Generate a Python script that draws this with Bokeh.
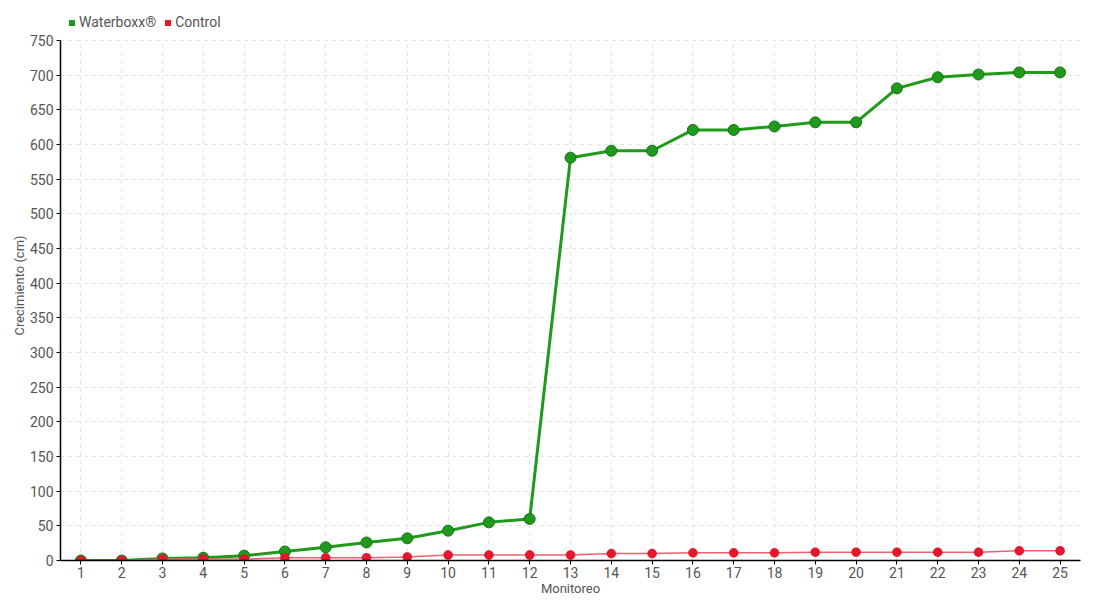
from bokeh.plotting import figure
from bokeh.models import Range1d, FixedTicker, Legend, LegendItem, BoxAnnotation
from bokeh.embed import file_html
from bokeh.resources import INLINE

monitoreo = list(range(1, 26))
waterboxx = [0, 0, 3, 4, 7, 13, 19, 26, 32, 43, 55, 60, 581, 591, 591, 621, 621, 626, 632, 632, 681, 697, 701, 704, 704]
control = [0, 0, 2, 2, 2, 4, 4, 4, 5, 8, 8, 8, 8, 10, 10, 11, 11, 11, 12, 12, 12, 12, 12, 14, 14]
y_ticks = list(range(0, 751, 50))

FONT = "Roboto"
TXT = "#555555"

# frame spans y=10..560 px; 0..750 occupies the lower 520 px
y_top = 750 + 30 * 750 / 520

p = figure(width=1092, height=598, output_backend="svg", toolbar_location=None,
           x_range=Range1d(0.5, 25.5), y_range=Range1d(0, y_top),
           min_border_left=60, min_border_right=12, min_border_top=10, min_border_bottom=38)
p.outline_line_color = None
p.background_fill_color = "white"

for ax in (p.xaxis[0], p.yaxis[0]):
    ax.axis_line_color = "black"
    ax.axis_line_width = 1.5
    ax.major_tick_line_color = "black"
    ax.major_tick_out = 4
    ax.major_tick_in = 0
    ax.minor_tick_line_color = None
    ax.major_label_text_font = FONT
    ax.major_label_text_font_size = "14px"
    ax.major_label_text_color = TXT
    ax.axis_label_text_font = FONT
    ax.axis_label_text_font_size = "13px"
    ax.axis_label_text_color = TXT
    ax.axis_label_text_font_style = "normal"

p.xaxis.ticker = FixedTicker(ticks=monitoreo)
p.yaxis.ticker = FixedTicker(ticks=y_ticks)
p.yaxis.bounds = (0, 750)
p.xaxis.axis_label = "Monitoreo"
p.yaxis.axis_label = "Crecimiento (cm)"
p.xaxis.axis_label_standoff = 0
p.yaxis.axis_label_standoff = 0
p.xaxis.major_label_standoff = 2
p.yaxis.major_label_standoff = 3

for g in (p.xgrid[0], p.ygrid[0]):
    g.grid_line_color = "#e2e2e2"
    g.grid_line_dash = "4 4"
    g.grid_line_width = 1

green = "#1f9a1a"
red = "#e8162b"

gl = p.line(monitoreo, waterboxx, line_color=green, line_width=3)
gs = p.scatter(monitoreo, waterboxx, size=11, fill_color=green, line_color="#17731a", line_width=1)
rl = p.line(monitoreo, control, line_color="#f0606f", line_width=1.5)
rs = p.scatter(monitoreo, control, size=9, fill_color=red, line_color="#c81020", line_width=0.5)

cover = BoxAnnotation(bottom=751, fill_color="white", fill_alpha=1, line_color=None, level="underlay")
p.add_layout(cover)

gsq = p.scatter([0], [0], marker="square", size=8, fill_color=green, line_color=None, visible=False)
rsq = p.scatter([0], [0], marker="square", size=8, fill_color=red, line_color=None, visible=False)

legend = Legend(items=[LegendItem(label="Waterboxx®", renderers=[gsq]),
                       LegendItem(label="Control", renderers=[rsq])],
                orientation="horizontal", location="top_left",
                label_text_font=FONT, label_text_font_size="14px", label_text_color=TXT,
                glyph_width=15, glyph_height=15, label_standoff=0, spacing=4,
                label_height=14, padding=0, margin=4, border_line_color=None,
                background_fill_alpha=0)
p.add_layout(legend, "center")

open("out.html", "w").write(file_html(p, INLINE))
